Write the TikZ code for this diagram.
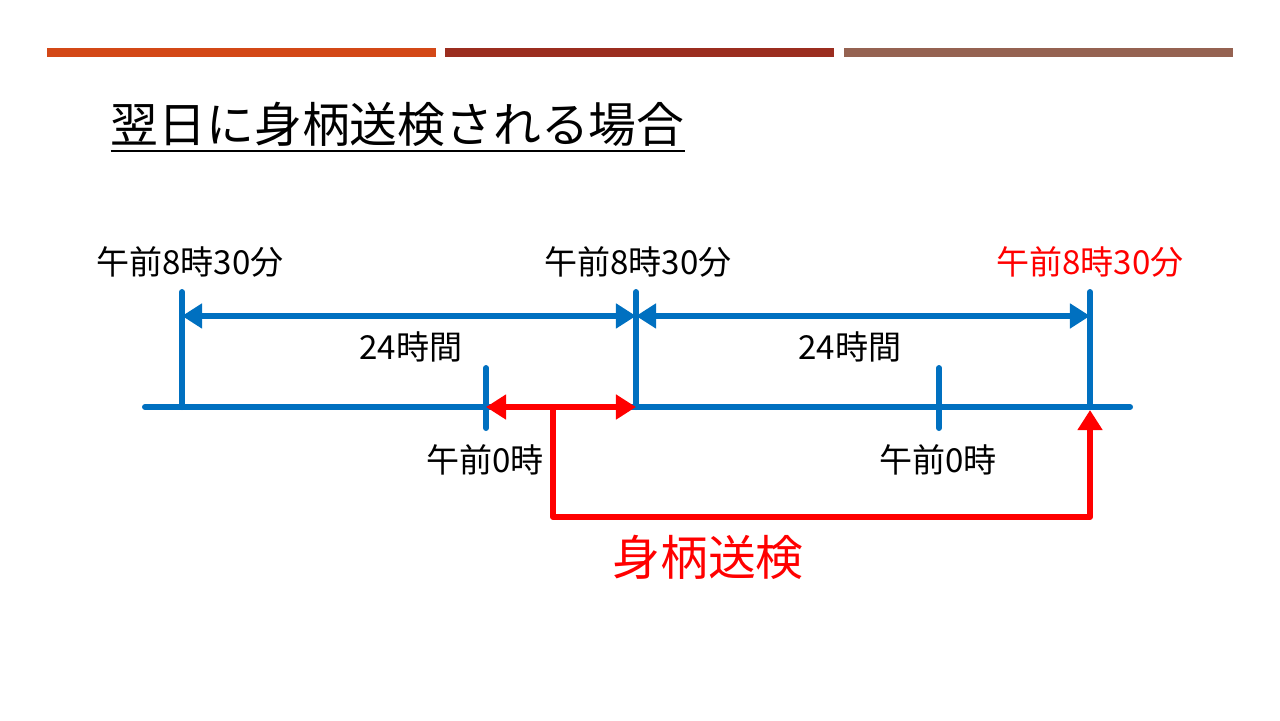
\documentclass[tikz,border=0pt]{standalone}
\usepackage{fontspec}
\setmainfont{Noto Sans CJK JP}
\usetikzlibrary{arrows.meta,positioning}
\definecolor{axisblue}{HTML}{0070C0}
\definecolor{barA}{HTML}{D34817}
\definecolor{barB}{HTML}{9B2D1F}
\definecolor{barC}{HTML}{956251}

\begin{document}
\begin{tikzpicture}[
  x=0.01cm, y=-0.01cm,
  >={Triangle[length=5.7pt,width=6.8pt]},
  axis/.style={draw=axisblue, line width=1.7pt, line cap=round},
  span/.style={axisblue, line width=1.7pt, <->},
  move/.style={red, line width=1.7pt, line join=round},
  lbl/.style={font=\fontsize{9.4pt}{11pt}\selectfont, inner sep=0pt},
  big/.style={font=\fontsize{13.6pt}{16pt}\selectfont, inner sep=0pt},
]
\useasboundingbox (0,0) rectangle (1280,720);

% Header bars
\fill[barA] (47,48) rectangle (436,57);
\fill[barB] (445,48) rectangle (834,57);
\fill[barC] (844,48) rectangle (1233,57);

% Title
\node[big, anchor=base west] (title) at (110,142) {\underline{翌日に身柄送検される場合}};

% Time axis and ticks
\coordinate (start) at (145,407);
\coordinate (end) at (1130,407);
\coordinate (d0) at (182,407);
\coordinate (d1) at (636,407);
\coordinate (d2) at (1090,407);
\coordinate (m1) at (486,407);
\coordinate (m2) at (939,407);
\coordinate (split) at (553,407);

\draw[axis] (start) -- (end);
\draw[axis] (d0) -- ++(0,-115) coordinate (d0top);
\draw[axis] (d1) -- ++(0,-115) coordinate (d1top);
\draw[axis] (d2) -- ++(0,-115) coordinate (d2top);
\draw[axis] (m1) ++(0,-39) coordinate (m1top) -- ++(0,60) coordinate (m1bot);
\draw[axis] (m2) ++(0,-39) coordinate (m2top) -- ++(0,60) coordinate (m2bot);

% 24h spans
\draw[span] ([yshift=0.91cm]d0) -- ([yshift=0.91cm]d1);
\draw[span] ([yshift=0.91cm]d1) -- ([yshift=0.91cm]d2);

% Labels
\node[lbl] (t0) at (190,262) {午前8時30分};
\node[lbl] (t1) at (638,262) {午前8時30分};
\node[lbl, text=red] (t2) at (1090,262) {午前8時30分};
\node[lbl] (h1) at (411,347) {24時間};
\node[lbl] (h2) at (850,347) {24時間};
\node[lbl] (z1) at (485,460) {午前0時};
\node[lbl] (z2) at (938,460) {午前0時};

% Transfer to prosecutor
\draw[move, <->] (m1) -- (d1);
\draw[move, ->] (split) -- ++(0,110) -| ([yshift=-0.03cm]d2);
\node[big, text=red] (send) at (708,557) {身柄送検};

\end{tikzpicture}
\end{document}
